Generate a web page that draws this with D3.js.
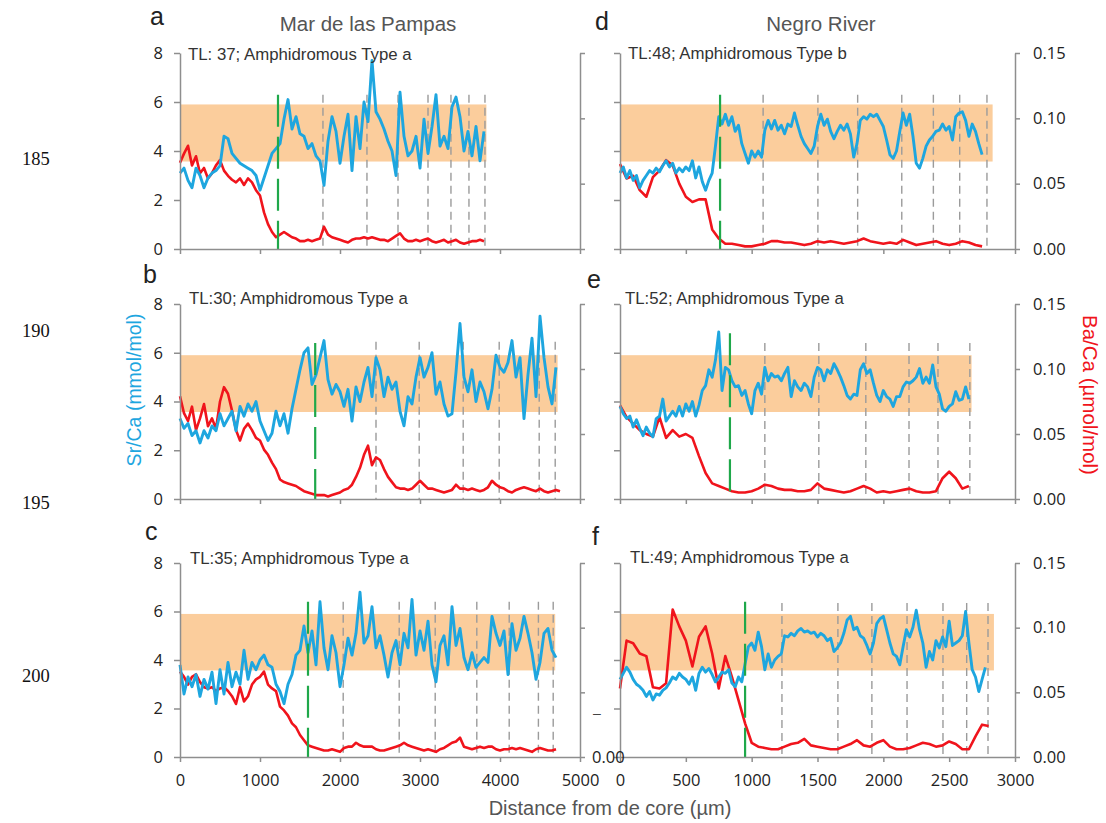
<!DOCTYPE html>
<html><head><meta charset="utf-8">
<script src="https://cdn.jsdelivr.net/npm/d3@7"></script>
<style>body{margin:0;background:#fff}svg{display:block}</style>
</head><body>
<script>
// ---------- DATA ----------
// Sr/Ca (mmol/mol), sampled every srStep µm from the core
const srA = [3.1,3.3,2.8,2.5,3.3,3.0,2.5,2.9,3.1,3.2,3.4,4.6,4.5,3.9,3.7,3.5,3.4,3.3,3.2,3.0,2.4,2.9,3.4,3.9,4.1,4.3,5.3,6.1,4.9,5.4,4.7,4.6,4.1,4.3,3.8,3.6,2.6,4.4,5.4,4.8,3.5,4.6,5.5,3.2,5.4,4.1,6.0,5.2,7.7,5.6,5.3,4.9,4.4,4.0,3.0,6.4,4.6,3.8,4.0,4.6,3.3,5.3,3.9,5.0,6.3,4.2,4.6,4.1,5.8,6.2,5.4,4.0,4.8,3.8,5.0,3.6,4.8];
const srB = [3.3,2.9,3.1,2.6,2.8,2.3,2.8,2.5,3.0,2.8,3.5,3.0,3.3,3.6,2.8,3.8,3.4,3.9,3.6,4.0,3.2,2.8,2.4,2.7,3.6,3.0,3.5,2.7,3.7,4.5,5.3,6.0,6.2,4.7,5.1,5.8,6.5,4.9,4.3,4.7,4.4,3.8,4.5,3.2,4.6,4.0,4.8,5.4,4.2,5.8,5.3,4.2,5.0,4.5,4.8,3.6,3.0,4.2,3.9,5.0,5.8,5.0,5.4,6.0,4.3,4.8,3.9,3.4,3.5,5.2,7.2,5.0,4.4,5.3,4.0,4.8,4.4,3.7,4.5,5.9,5.4,5.2,5.6,6.5,5.0,5.8,3.3,5.1,6.6,4.2,7.5,5.8,4.6,3.9,5.4];
const srC = [3.8,2.6,3.3,2.9,3.4,2.5,3.2,2.8,3.5,2.2,3.6,2.6,3.9,2.9,3.5,3.0,4.4,3.2,3.9,3.6,4.0,4.2,3.8,3.7,3.0,2.7,2.2,3.0,3.4,4.2,4.4,5.4,4.3,5.2,3.8,6.4,4.5,3.6,5.0,4.3,2.9,3.8,4.9,4.2,5.1,6.8,4.7,5.0,6.2,4.5,5.0,4.2,3.3,4.3,4.8,3.8,5.1,4.5,6.5,4.2,5.2,4.4,5.6,3.8,3.1,4.6,5.0,3.8,6.2,4.6,5.3,4.1,3.6,4.3,3.7,3.9,4.1,3.9,5.8,5.1,4.6,5.2,3.4,5.5,4.4,4.9,5.8,5.1,4.3,3.2,3.9,5.1,5.3,4.4,4.1];
const srD = [3.1,3.35,2.9,3.2,2.8,3.0,2.5,2.8,3.0,3.2,3.1,3.3,3.15,3.4,3.6,3.35,3.5,3.1,3.3,3.15,3.35,3.2,3.6,2.9,3.35,2.75,2.4,2.8,3.1,4.2,5.4,5.1,5.5,5.05,5.4,4.8,5.05,4.3,3.9,3.5,4.0,3.75,4.0,3.75,4.85,5.25,4.9,5.25,4.85,5.05,4.7,5.1,5.0,5.55,5.05,4.6,4.3,4.1,3.9,4.2,5.0,5.5,5.05,5.3,4.8,4.5,4.8,5.05,4.85,5.1,4.7,3.75,4.3,5.25,5.4,5.3,5.5,5.4,5.5,5.25,5.0,4.45,3.85,3.7,4.0,4.8,5.55,5.05,5.5,4.6,3.5,3.3,3.7,4.2,4.45,4.6,4.8,4.85,5.1,4.85,5.0,4.45,5.4,5.55,5.6,5.25,4.6,5.1,4.8,4.3,3.85];
const srE = [3.8,3.5,3.3,3.4,2.95,3.25,2.9,2.6,2.95,2.7,2.55,3.3,3.4,4.1,3.2,3.4,3.6,3.4,3.8,3.4,3.9,3.6,4.0,3.4,3.85,4.45,4.65,5.3,5.0,5.7,6.85,4.45,5.4,5.3,4.85,4.6,4.65,4.25,4.45,3.9,3.5,4.45,4.75,4.3,5.4,4.85,5.15,5.0,5.05,4.85,5.15,5.4,4.2,4.85,4.6,4.45,4.75,4.6,4.2,5.0,5.4,5.3,4.85,5.3,5.15,5.55,5.3,5.0,4.65,4.25,4.1,4.3,4.25,5.3,5.55,5.15,5.3,4.75,4.25,4.0,4.45,4.2,4.1,3.8,4.2,4.2,4.6,4.8,4.75,4.85,5.0,5.35,4.75,5.0,4.75,5.5,4.6,4.3,3.7,3.6,3.8,3.9,4.4,4.05,4.1,4.6,4.1];
const srF = [3.2,3.45,3.7,3.5,3.2,3.0,2.9,2.75,2.5,2.7,2.35,2.6,2.55,2.75,2.85,3.05,3.3,3.2,3.45,3.3,3.2,3.0,3.3,2.75,3.45,3.7,3.5,3.65,3.4,3.1,3.3,3.5,3.45,3.6,3.05,2.9,3.3,3.1,3.85,4.55,4.7,4.4,5.15,4.55,3.6,4.25,3.7,4.0,4.15,4.25,5.0,4.95,5.1,5.0,5.2,5.3,5.15,5.2,5.1,5.15,4.95,5.1,5.0,4.8,4.9,4.35,4.5,4.7,5.1,5.65,5.8,5.25,5.35,5.0,4.9,4.6,4.25,4.7,5.5,5.7,5.8,5.25,4.7,4.25,4.15,3.8,4.55,5.25,4.95,5.35,6.05,5.25,4.7,3.7,4.35,4.0,4.8,4.5,4.95,4.55,5.6,4.6,4.7,4.8,5.0,6.0,4.7,3.6,3.3,2.7,3.2,3.7];

// Ba/Ca (µmol/mol), sampled every baStep µm from the core
const baA = [.066,.073,.079,.064,.071,.058,.062,.054,.058,.064,.068,.060,.056,.053,.051,.054,.049,.054,.051,.045,.041,.028,.019,.013,.009,.011,.013,.011,.009,.008,.006,.006,.007,.006,.007,.008,.017,.011,.009,.008,.007,.006,.005,.007,.008,.008,.009,.008,.009,.008,.007,.007,.006,.008,.010,.012,.008,.006,.006,.007,.006,.007,.008,.006,.005,.006,.007,.005,.006,.007,.005,.004,.005,.006,.006,.007,.006];
const baB = [.079,.066,.060,.071,.053,.062,.073,.056,.062,.054,.075,.086,.081,.068,.053,.045,.054,.058,.053,.047,.045,.038,.034,.028,.023,.015,.013,.012,.011,.010,.008,.006,.005,.004,.003,.003,.003,.002,.003,.004,.005,.007,.008,.011,.017,.024,.034,.041,.026,.032,.030,.023,.017,.013,.009,.008,.008,.007,.008,.011,.014,.011,.008,.008,.007,.006,.005,.006,.007,.011,.008,.008,.007,.008,.007,.006,.007,.009,.014,.011,.009,.008,.006,.005,.007,.008,.009,.008,.007,.006,.008,.006,.005,.006,.007,.006];
const baC = [.066,.062,.056,.062,.064,.058,.054,.053,.054,.051,.053,.054,.051,.047,.041,.054,.043,.047,.056,.060,.062,.066,.056,.053,.051,.039,.036,.032,.026,.023,.017,.013,.009,.008,.007,.006,.005,.005,.006,.005,.004,.007,.008,.008,.011,.009,.008,.008,.008,.006,.005,.005,.006,.007,.008,.009,.011,.009,.008,.007,.006,.005,.006,.005,.004,.006,.007,.009,.011,.012,.015,.008,.007,.006,.007,.008,.007,.008,.008,.006,.005,.006,.006,.007,.006,.007,.006,.005,.004,.006,.007,.006,.005,.005,.006];
const baD = [.065,.054,.056,.045,.040,.055,.060,.068,.064,.050,.040,.036,.038,.038,.015,.008,.004,.004,.003,.002,.002,.003,.004,.006,.006,.005,.005,.004,.003,.004,.006,.005,.006,.005,.004,.005,.006,.008,.006,.005,.004,.005,.004,.007,.005,.003,.004,.005,.006,.004,.003,.004,.006,.005,.003,.002];
const baE = [.072,.063,.058,.053,.050,.048,.063,.047,.053,.048,.050,.047,.033,.020,.012,.010,.008,.006,.005,.005,.006,.008,.011,.010,.008,.007,.007,.006,.006,.007,.012,.008,.007,.006,.005,.006,.008,.010,.008,.005,.006,.005,.006,.007,.008,.006,.005,.005,.006,.016,.021,.016,.008,.010];
const baF = [.053,.090,.088,.080,.078,.054,.053,.057,.114,.101,.090,.070,.093,.101,.080,.053,.078,.062,.044,.026,.011,.008,.007,.006,.006,.008,.010,.011,.014,.009,.008,.007,.006,.006,.008,.010,.013,.009,.008,.011,.013,.008,.006,.006,.007,.009,.011,.010,.008,.009,.012,.010,.006,.006,.016,.025,.024];

const srSteps = [50,50,50,25,25,25];
const baSteps = [50,50,50,50,50,50];

// vertical markers (µm): green = transition, gray = annuli
const greenX = [1225,1690,1600,760,835,950];
const greenTop = [6.3,6.4,6.4,6.3,6.8,6.4];
const grayX = [
  [1787,2337,2725,3100,3387,3612,3812],
  [2450,2990,3540,3990,4490,4690],
  [2040,2740,3190,3710,4115,4480,4665],
  [1087,1503,1805,2140,2380,2580,2787],
  [1100,1510,1867,2195,2415,2657],
  [1230,1655,1913,2180,2453,2633,2795]
];
const grayTop = [6.3,6.45,6.4,6.3,6.4,6.35];

// Sr/Ca marine band
const bandLow = 3.57, bandHigh = 5.9;
const bandEnd = [3830,4720,4690,2830,2670,2840];

const panelLetters = ["a","b","c","d","e","f"];
const panelTitles = ["TL: 37; Amphidromous Type a","TL:30; Amphidromous Type a","TL:35; Amphidromous Type a",
                     "TL:48; Amphidromous Type b","TL:52; Amphidromous Type a","TL:49; Amphidromous Type a"];
const siteTitles = ["Mar de las Pampas","Negro River"];
const srTicks = [0,2,4,6,8];
const baTicks = [0,0.05,0.10,0.15];
const xTicksLeft = [0,1000,2000,3000,4000,5000];
const xTicksRight = [0,500,1000,1500,2000,2500,3000];
const lineNumbers = ["185","190","195","200"];

// ---------- DRAW ----------
const W = 1106, H = 823;
const svg = d3.select("body").append("svg").attr("width", W).attr("height", H)
  .style("font-family","'Liberation Sans', Arial, sans-serif");

const cols = [
  {x0:180, x1:580, max:5000, ticks:xTicksLeft},
  {x0:620, x1:1015, max:3000, ticks:xTicksRight}
];
const rows = [{top:53,bottom:249},{top:304,bottom:499},{top:563,bottom:757}];
const srData = [srA,srB,srC,srD,srE,srF];
const baData = [baA,baB,baC,baD,baE,baF];

const BLUE = "#1ea6df", RED = "#f0141c", BAND = "#fbcd9c", GREEN = "#1fa84a", AXIS = "#8e8e8e";
const letterPos = [[150,25],[143,283],[145,540],[595,30],[587,288],[592,545]];
const titlePos = [[188,60],[189,304],[190,564],[628,59],[625,304],[630,563]];

function styleAxis(g){
  g.select(".domain").attr("stroke",AXIS).attr("stroke-width",1.5);
  g.selectAll(".tick line").attr("stroke",AXIS).attr("stroke-width",1.5);
  g.selectAll(".tick text").attr("fill","#222").style("font-family","'Open Sans', sans-serif").style("font-size","16.5px");
}

for (let p = 0; p < 6; p++) {
  const c = cols[Math.floor(p/3)], r = rows[p%3];
  const x = d3.scaleLinear().domain([0,c.max]).range([c.x0,c.x1]);
  const ys = d3.scaleLinear().domain([0,8]).range([r.bottom,r.top]);
  const yb = d3.scaleLinear().domain([0,0.15]).range([r.bottom,r.top]);
  const g = svg.append("g");

  // band
  g.append("rect").attr("x",x(0)).attr("y",ys(bandHigh))
    .attr("width",x(bandEnd[p])-x(0)).attr("height",ys(bandLow)-ys(bandHigh)).attr("fill",BAND);

  // gray dashed lines
  g.selectAll(".gd").data(grayX[p]).join("line")
    .attr("x1",d=>x(d)).attr("x2",d=>x(d)).attr("y1",ys(grayTop[p])).attr("y2",ys(0))
    .attr("stroke","#9b9b9b").attr("stroke-width",1.4).attr("stroke-dasharray","8,5");

  // series
  const sr = srData[p].map((v,i)=>[i*srSteps[p],v]);
  const ba = baData[p].map((v,i)=>[i*baSteps[p],v]);
  g.append("path").datum(ba).attr("fill","none").attr("stroke",RED).attr("stroke-width",2.6)
    .attr("stroke-linejoin","round").attr("d",d3.line().x(d=>x(d[0])).y(d=>yb(d[1])));
  g.append("path").datum(sr).attr("fill","none").attr("stroke",BLUE).attr("stroke-width",2.9)
    .attr("stroke-linejoin","round").attr("d",d3.line().x(d=>x(d[0])).y(d=>ys(d[1])));

  // green dashed transition line
  g.append("line").attr("x1",x(greenX[p])).attr("x2",x(greenX[p]))
    .attr("y1",ys(greenTop[p])).attr("y2",ys(0))
    .attr("stroke",GREEN).attr("stroke-width",2.2).attr("stroke-dasharray","32,10");

  // axes
  const isLeft = p < 3, isBottom = p%3 === 2;
  const ax = g.append("g").attr("transform",`translate(0,${r.bottom})`)
    .call(d3.axisBottom(x).tickValues(c.ticks).tickSize(5).tickSizeOuter(0).tickPadding(12)
      .tickFormat(isBottom ? d3.format("d") : ""));
  styleAxis(ax);

  const al = g.append("g").attr("transform",`translate(${c.x0},0)`)
    .call(d3.axisLeft(ys).tickValues(srTicks).tickSize(6).tickSizeOuter(0).tickPadding(11)
      .tickFormat(isLeft ? d3.format("d") : ""));
  styleAxis(al);

  const ar = g.append("g").attr("transform",`translate(${c.x1},0)`)
    .call(d3.axisRight(yb).tickValues(baTicks).tickSize(5).tickSizeOuter(0).tickPadding(13)
      .tickFormat(isLeft ? "" : d3.format(".2f")));
  styleAxis(ar);

  // panel letter & subtitle
  svg.append("text").attr("x",letterPos[p][0]).attr("y",letterPos[p][1])
    .attr("font-size",25).attr("fill","#222").text(panelLetters[p]);
  svg.append("text").attr("x",titlePos[p][0]).attr("y",titlePos[p][1])
    .attr("font-size",16.8).attr("fill","#333").text(panelTitles[p]);
}

// site titles
svg.append("text").attr("x",368).attr("y",31).attr("text-anchor","middle")
  .attr("font-size",20.5).attr("fill","#555").text(siteTitles[0]);
svg.append("text").attr("x",821).attr("y",31).attr("text-anchor","middle")
  .attr("font-size",20.5).attr("fill","#555").text(siteTitles[1]);

// axis titles
svg.append("text").attr("transform","translate(141,390) rotate(-90)").attr("text-anchor","middle")
  .attr("font-size",19.5).attr("fill",BLUE).text("Sr/Ca (mmol/mol)");
svg.append("text").attr("transform","translate(1083,395) rotate(90)").attr("text-anchor","middle")
  .attr("font-size",20.5).attr("fill",RED).text("Ba/Ca (µmol/mol)");
svg.append("text").attr("x",610).attr("y",815).attr("text-anchor","middle")
  .attr("font-size",20).attr("fill","#555").text("Distance from de core (µm)");

// stray marks present in the figure
svg.append("text").attr("x",592).attr("y",763).style("font-family","'Open Sans', sans-serif")
  .attr("font-size",16.5).attr("fill","#222").text("0.00");
svg.append("text").attr("x",593).attr("y",718).attr("font-size",14).attr("fill","#444").text("–");

// manuscript line numbers
const lnY = [165,337,509,682];
lineNumbers.forEach((t,i)=>svg.append("text").attr("x",22).attr("y",lnY[i])
  .style("font-family","'Liberation Serif', 'Times New Roman', serif").attr("font-size",18.5).attr("fill","#111").text(t));
</script>
</body></html>
